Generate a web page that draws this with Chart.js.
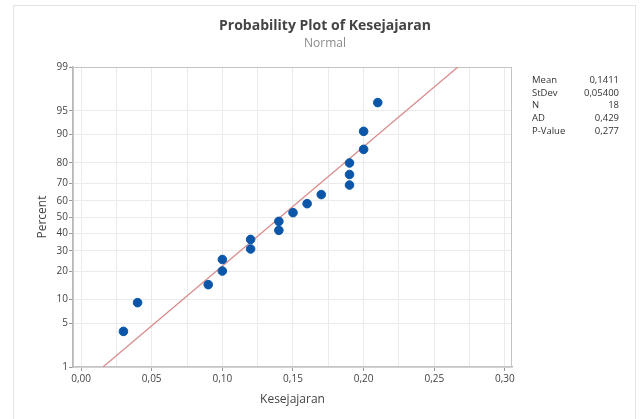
<!DOCTYPE html>
<html>
<head>
<meta charset="utf-8">
<script src="https://cdn.jsdelivr.net/npm/chart.js@4.4.1/dist/chart.umd.min.js"></script>
<style>
  html, body { margin: 0; padding: 0; background: #fff; }
  #wrap { position: relative; width: 642px; height: 419px; }
  #frame { position: absolute; left: 13px; top: 5px; width: 623px; height: 420px;
           border: 1px solid #e3e3e3; border-bottom: none; box-sizing: border-box; }
  canvas { position: absolute; left: 0; top: 0; }
</style>
</head>
<body>
<div id="wrap">
  <div id="frame"></div>
  <canvas id="myChart" width="642" height="419"></canvas>
</div>
<script>
// Kesejajaran values (sorted) and their plotted percent positions
const kesejajaran = [0.03, 0.04, 0.09, 0.10, 0.10, 0.12, 0.12, 0.14, 0.14, 0.15, 0.16, 0.17, 0.19, 0.19, 0.19, 0.20, 0.20, 0.21];
const percent = [3.8, 9.2, 14.7, 20.1, 25.5, 31.0, 36.4, 41.8, 47.3, 52.7, 58.2, 63.6, 69.0, 74.5, 79.9, 85.3, 90.8, 96.2];

// fitted normal line (ends at 1% and 99%)
const fitX = [0.0155, 0.2667];
const fitPercent = [1, 99];

// axis ticks
const percentTicks = [1, 5, 10, 20, 30, 40, 50, 60, 70, 80, 90, 95, 99];
const xTicks = [0, 0.025, 0.05, 0.075, 0.10, 0.125, 0.15, 0.175, 0.20, 0.225, 0.25, 0.275, 0.30];
const xTickLabels = ['0,00', '0,05', '0,10', '0,15', '0,20', '0,25', '0,30'];

// stats box
const statLabels = ['Mean', 'StDev', 'N', 'AD', 'P-Value'];
const statValues = ['0,1411', '0,05400', '18', '0,429', '0,277'];

const FONT = "'Open Sans', 'Noto Sans', sans-serif";

// inverse normal cdf (Acklam)
function probit(p) {
    const a = [-39.69683028665376, 220.9460984245205, -275.9285104469687, 138.3577518672690, -30.66479806614716, 2.506628277459239];
    const b = [-54.47609879822406, 161.5858368580409, -155.6989798598866, 66.80131188771972, -13.28068155288572];
    const c = [-0.007784894002430293, -0.3223964580411365, -2.400758277161838, -2.549732539343734, 4.374664141464968, 2.938163982698783];
    const d = [0.007784695709041462, 0.3224671290700398, 2.445134137142996, 3.754408661907416];
    const pl = 0.02425;
    let q, r;
    if (p < pl) {
        q = Math.sqrt(-2 * Math.log(p));
        return (((((c[0]*q+c[1])*q+c[2])*q+c[3])*q+c[4])*q+c[5]) / ((((d[0]*q+d[1])*q+d[2])*q+d[3])*q+1);
    } else if (p <= 1 - pl) {
        q = p - 0.5; r = q * q;
        return (((((a[0]*r+a[1])*r+a[2])*r+a[3])*r+a[4])*r+a[5])*q / (((((b[0]*r+b[1])*r+b[2])*r+b[3])*r+b[4])*r+1);
    }
    q = Math.sqrt(-2 * Math.log(1 - p));
    return -(((((c[0]*q+c[1])*q+c[2])*q+c[3])*q+c[4])*q+c[5]) / ((((d[0]*q+d[1])*q+d[2])*q+d[3])*q+1);
}

const points = kesejajaran.map((x, i) => ({ x: x, y: probit(percent[i] / 100) }));
const fitLine = fitX.map((x, i) => ({ x: x, y: probit(fitPercent[i] / 100) }));

// plot frame + stats text
const extras = {
    id: 'extras',
    beforeDatasetsDraw(chart) {
        const { ctx, chartArea: a } = chart;
        ctx.save();
        ctx.strokeStyle = '#c4c4c4';
        ctx.lineWidth = 1;
        ctx.strokeRect(a.left + 0.5, a.top + 0.5, a.right - a.left - 1, a.bottom - a.top - 1);
        ctx.restore();
    },
    afterDraw(chart) {
        const { ctx, chartArea: a } = chart;
        ctx.save();
        ctx.font = '9.5px ' + FONT;
        ctx.fillStyle = '#333';
        ctx.textBaseline = 'middle';
        statLabels.forEach((lab, i) => {
            const y = 80 + i * 12.8;
            ctx.textAlign = 'left';
            ctx.fillText(lab, a.right + 20, y);
            ctx.textAlign = 'right';
            ctx.fillText(statValues[i], a.right + 107, y);
        });
        ctx.restore();
    }
};

const ctx = document.getElementById('myChart').getContext('2d');
const myChart = new Chart(ctx, {
    type: 'scatter',
    data: {
        datasets: [{
            label: 'Kesejajaran',
            data: points,
            backgroundColor: '#0b56a8',
            borderColor: '#0b56a8',
            pointRadius: 4.3,
            pointHoverRadius: 4.3
        }, {
            label: 'Fit',
            data: fitLine,
            showLine: true,
            borderColor: '#d98c8c',
            borderWidth: 1.3,
            pointRadius: 0
        }]
    },
    options: {
        responsive: false,
        animation: false,
        layout: { padding: { left: 13, right: 5, top: 0, bottom: 0 } },
        plugins: {
            legend: { display: false },
            tooltip: { enabled: false },
            title: {
                display: true,
                text: 'Probability Plot of Kesejajaran',
                color: '#444',
                font: { family: FONT, size: 14, weight: 'bold' },
                padding: { top: 17.6, bottom: 0 }
            },
            subtitle: {
                display: true,
                text: 'Normal',
                color: '#8a8a8a',
                font: { family: FONT, size: 12 },
                padding: { top: 2, bottom: 16.2 }
            }
        },
        scales: {
            x: {
                type: 'linear',
                min: -0.0057,
                max: 0.305,
                afterBuildTicks: (scale) => { scale.ticks = xTicks.map(v => ({ value: v })); },
                afterFit: (scale) => { scale.height = 52; },
                ticks: {
                    autoSkip: false,
                    maxRotation: 0,
                    padding: 2,
                    color: '#444',
                    font: { family: FONT, size: 10 },
                    callback: (v, i) => (i % 2 === 0 ? xTickLabels[i / 2] : '')
                },
                grid: {
                    color: '#ebebeb',
                    tickLength: 4,
                    tickColor: (c) => (c.index % 2 === 0 ? '#999' : 'rgba(0,0,0,0)')
                },
                border: { color: '#b8b8b8', width: 1.5 },
                title: {
                    display: true,
                    text: 'Kesejajaran',
                    color: '#444',
                    font: { family: FONT, size: 12 },
                    padding: { top: 0, bottom: 11.8 }
                }
            },
            y: {
                type: 'linear',
                min: probit(0.01),
                max: probit(0.99),
                afterBuildTicks: (scale) => { scale.ticks = percentTicks.map(p => ({ value: probit(p / 100) })); },
                afterFit: (scale) => { scale.width = 60; },
                ticks: {
                    autoSkip: false,
                    padding: 1,
                    color: '#444',
                    font: { family: FONT, size: 10 },
                    callback: (v, i) => String(percentTicks[i])
                },
                grid: { color: '#ebebeb', tickLength: 4, tickColor: '#999' },
                border: { color: '#b8b8b8', width: 1.5 },
                title: {
                    display: true,
                    text: 'Percent',
                    color: '#444',
                    font: { family: FONT, size: 12 },
                    padding: { top: 22, bottom: 0 }
                }
            },
            y2: {
                position: 'right',
                display: true,
                ticks: { display: false },
                grid: { display: false },
                border: { display: false },
                afterFit: (scale) => { scale.width = 125; }
            }
        }
    },
    plugins: [extras]
});
</script>
</body>
</html>
